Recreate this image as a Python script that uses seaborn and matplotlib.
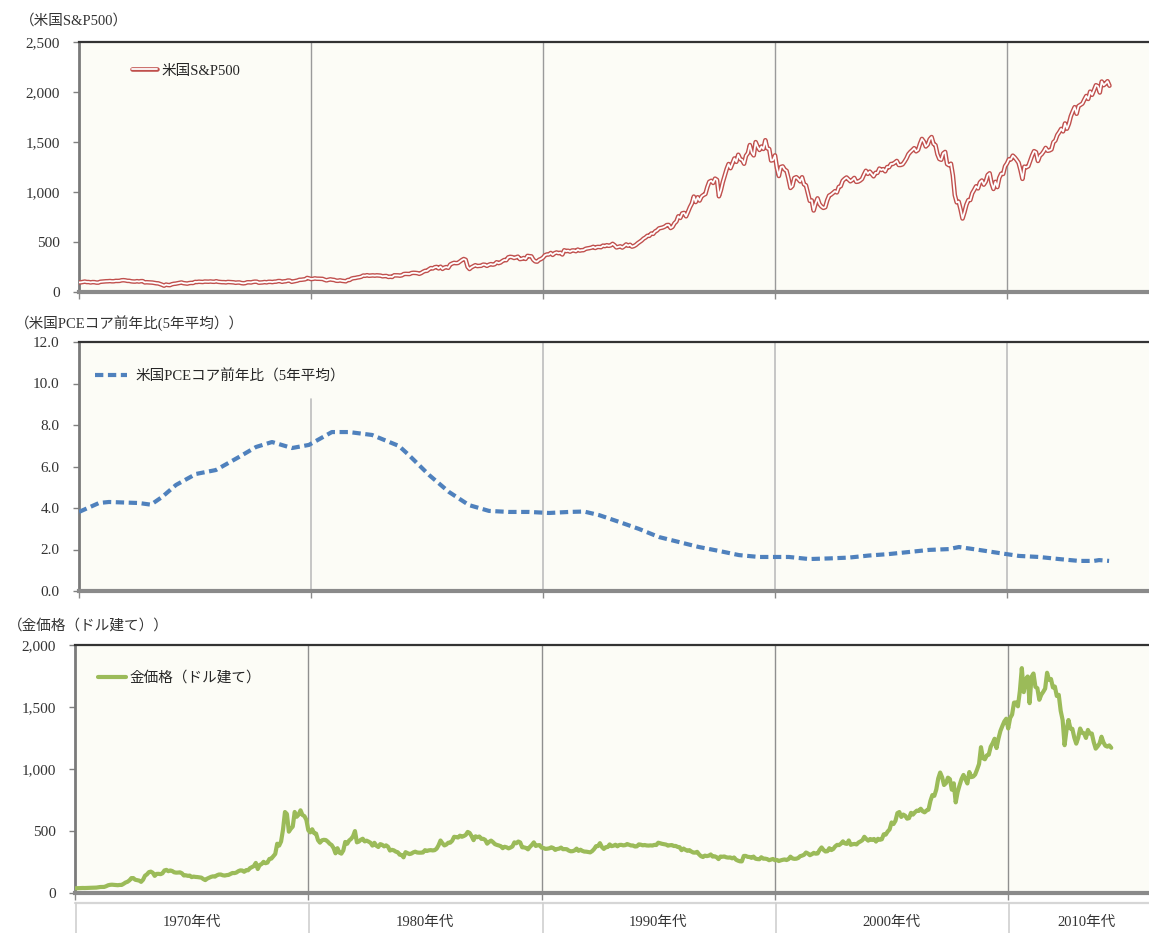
import numpy as np
import pandas as pd
import matplotlib
matplotlib.use("Agg")
import matplotlib.pyplot as plt
import matplotlib.transforms as mtransforms
from matplotlib.lines import Line2D
from matplotlib.legend_handler import HandlerTuple
from matplotlib.ticker import FuncFormatter, MultipleLocator
import seaborn as sns

# ---------------- data (monthly, Jan 1971 - Jun 2015) ----------------
START_YEAR = 1971

sp500 = [
    95.9, 96.8, 100.3, 104.0, 99.6, 99.7, 95.6, 99.0, 98.3, 94.2, 94.0, 102.1,
    103.9, 106.6, 107.2, 107.7, 109.5, 107.1, 107.4, 111.1, 110.6, 111.6, 116.7, 118.1,
    116.0, 111.7, 111.5, 107.0, 105.0, 104.3, 108.2, 104.3, 108.4, 108.3, 96.0, 97.6,
    96.6, 96.2, 94.0, 90.3, 87.3, 86.0, 79.3, 72.2, 63.5, 73.9, 70.0, 68.6,
    77.0, 81.6, 83.4, 87.3, 91.2, 95.2, 88.8, 86.9, 83.9, 89.0, 91.2, 90.2,
    100.9, 99.7, 102.8, 101.6, 100.2, 104.3, 103.4, 102.9, 105.2, 102.9, 102.1, 107.5,
    102.0, 99.8, 98.4, 98.4, 96.1, 100.5, 98.9, 96.8, 96.5, 92.3, 94.8, 95.1,
    89.3, 87.0, 89.2, 96.8, 97.2, 95.5, 100.7, 103.3, 102.5, 93.2, 94.7, 96.1,
    99.9, 96.3, 101.6, 101.8, 99.1, 102.9, 103.8, 109.3, 109.3, 101.8, 106.2, 107.9,
    114.2, 113.7, 102.1, 106.3, 111.2, 114.2, 121.7, 122.4, 125.5, 127.5, 140.5, 135.8,
    129.6, 131.3, 136.0, 132.8, 132.6, 131.2, 130.9, 122.8, 116.2, 121.9, 126.4, 122.6,
    120.4, 113.1, 112.0, 116.4, 111.9, 109.6, 107.1, 119.5, 120.4, 133.7, 138.5, 140.6,
    145.3, 148.1, 153.0, 164.4, 162.4, 168.1, 162.6, 164.4, 166.1, 163.6, 166.4, 164.9,
    163.4, 157.1, 159.2, 160.1, 150.6, 153.2, 150.7, 166.7, 166.1, 166.1, 163.6, 167.2,
    179.6, 181.2, 180.7, 179.8, 189.6, 191.9, 190.9, 188.6, 182.1, 189.8, 202.2, 211.3,
    211.8, 226.9, 238.9, 235.5, 247.4, 250.8, 236.1, 252.9, 231.3, 244.0, 249.2, 242.2,
    274.1, 284.2, 291.7, 288.4, 290.1, 304.0, 318.7, 329.8, 321.8, 251.8, 230.3, 247.1,
    257.1, 267.8, 258.9, 261.3, 262.2, 273.5, 272.0, 261.5, 271.9, 279.0, 273.7, 277.7,
    297.5, 288.9, 294.9, 309.6, 320.5, 318.0, 346.1, 351.5, 349.2, 340.4, 346.0, 353.4,
    329.1, 331.9, 339.9, 330.8, 361.2, 358.0, 356.2, 322.6, 306.1, 304.0, 322.2, 330.2,
    343.9, 367.1, 375.2, 375.3, 389.8, 371.2, 387.8, 395.4, 387.9, 392.5, 375.2, 417.1,
    408.8, 412.7, 403.7, 415.0, 415.4, 408.1, 424.2, 414.0, 417.8, 418.7, 431.4, 435.7,
    438.8, 443.4, 451.7, 440.2, 450.2, 450.5, 448.1, 463.6, 458.9, 467.8, 461.8, 466.5,
    481.6, 467.1, 445.8, 450.9, 456.5, 444.3, 458.3, 475.5, 462.7, 472.4, 453.7, 459.3,
    470.4, 487.4, 500.7, 514.7, 533.4, 544.8, 562.1, 561.9, 584.4, 581.5, 605.4, 615.9,
    636.0, 640.4, 645.5, 654.2, 669.1, 670.6, 640.0, 652.0, 687.3, 705.3, 757.0, 740.7,
    786.2, 790.8, 757.1, 801.3, 848.3, 885.1, 954.3, 899.5, 947.3, 914.6, 955.4, 970.4,
    980.3, 1049.3, 1101.8, 1111.8, 1090.8, 1133.8, 1120.7, 957.3, 1017.0, 1098.7, 1163.6, 1229.2,
    1279.6, 1238.3, 1286.4, 1335.2, 1301.8, 1372.7, 1328.7, 1320.4, 1282.7, 1362.9, 1388.9, 1469.3,
    1394.5, 1366.4, 1498.6, 1452.4, 1420.6, 1454.6, 1430.8, 1517.7, 1436.5, 1429.4, 1315.0, 1320.3,
    1366.0, 1239.9, 1160.3, 1249.5, 1255.8, 1224.4, 1211.2, 1133.6, 1040.9, 1059.8, 1139.5, 1148.1,
    1130.2, 1106.7, 1147.4, 1076.9, 1067.1, 989.8, 911.6, 916.1, 815.3, 885.8, 936.3, 879.8,
    855.7, 841.2, 848.2, 916.9, 963.6, 974.5, 990.3, 1008.0, 996.0, 1050.7, 1058.2, 1111.9,
    1131.1, 1144.9, 1126.2, 1107.3, 1120.7, 1140.8, 1101.7, 1104.2, 1114.6, 1130.2, 1173.8, 1211.9,
    1181.3, 1203.6, 1180.6, 1156.9, 1191.5, 1191.3, 1234.2, 1220.3, 1228.8, 1207.0, 1249.5, 1248.3,
    1280.1, 1280.7, 1294.8, 1310.6, 1270.1, 1270.2, 1276.7, 1303.8, 1335.9, 1377.9, 1400.6, 1418.3,
    1438.2, 1406.8, 1420.9, 1482.4, 1530.6, 1503.4, 1455.3, 1474.0, 1526.8, 1549.4, 1481.1, 1468.4,
    1378.6, 1330.6, 1322.7, 1385.6, 1400.4, 1280.0, 1267.4, 1282.8, 1166.4, 968.8, 896.2, 903.3,
    825.9, 735.1, 797.9, 872.8, 919.1, 919.3, 987.5, 1020.6, 1057.1, 1036.2, 1095.6, 1115.1,
    1073.9, 1104.5, 1169.4, 1186.7, 1089.4, 1030.7, 1101.6, 1049.3, 1141.2, 1183.3, 1180.6, 1257.6,
    1286.1, 1327.2, 1325.8, 1363.6, 1345.2, 1320.6, 1292.3, 1218.9, 1131.4, 1253.3, 1247.0, 1257.6,
    1312.4, 1365.7, 1408.5, 1397.9, 1310.3, 1362.2, 1379.3, 1406.6, 1440.7, 1412.2, 1416.2, 1426.2,
    1498.1, 1514.7, 1569.2, 1597.6, 1630.7, 1606.3, 1685.7, 1633.0, 1681.6, 1756.5, 1805.8, 1848.4,
    1782.6, 1859.5, 1872.3, 1884.0, 1923.6, 1960.2, 1930.7, 2003.4, 1972.3, 2018.1, 2067.6, 2058.9,
    1995.0, 2104.5, 2067.9, 2085.5, 2107.4, 2063.1,
]

gold = [
    37.9, 38.8, 38.9, 39.9, 40.6, 40.1, 41.0, 42.7, 42.0, 42.5, 43.0, 43.6,
    45.8, 48.3, 48.3, 49.0, 54.6, 62.1, 65.7, 67.0, 65.5, 64.9, 62.9, 64.9,
    65.1, 74.2, 84.5, 90.5, 102.0, 120.1, 120.2, 106.8, 103.0, 100.1, 90.0, 106.7,
    139.3, 150.2, 168.4, 172.2, 163.3, 138.0, 154.1, 154.6, 151.8, 158.8, 181.8, 186.5,
    175.8, 181.8, 177.3, 167.0, 164.2, 164.8, 166.7, 158.9, 141.3, 142.9, 138.3, 140.3,
    128.2, 132.3, 129.6, 128.4, 126.3, 123.8, 112.5, 104.0, 116.0, 123.2, 130.3, 134.5,
    132.3, 142.8, 148.9, 149.1, 143.0, 140.6, 144.1, 146.0, 154.1, 161.5, 160.5, 165.0,
    175.8, 182.3, 181.6, 170.9, 184.2, 183.1, 200.3, 208.7, 217.1, 242.6, 193.4, 226.0,
    233.7, 251.3, 240.1, 245.3, 274.6, 277.5, 296.5, 315.1, 397.3, 382.0, 415.7, 512.0,
    653.0, 637.0, 494.5, 518.0, 535.5, 653.5, 614.3, 631.3, 666.8, 629.0, 619.8, 589.8,
    506.5, 489.0, 513.8, 482.8, 479.3, 426.0, 406.0, 425.0, 428.8, 427.0, 414.5, 397.5,
    387.0, 362.6, 320.0, 361.3, 325.3, 317.5, 342.9, 411.5, 397.0, 423.3, 436.0, 456.9,
    499.5, 408.5, 414.8, 429.3, 437.5, 416.0, 422.0, 414.3, 405.0, 382.0, 405.0, 381.5,
    370.9, 394.3, 388.5, 375.8, 384.3, 373.1, 342.4, 348.3, 343.8, 333.5, 329.0, 309.0,
    306.7, 287.8, 329.3, 321.4, 314.0, 317.8, 327.5, 333.3, 326.5, 325.1, 325.3, 326.8,
    345.5, 338.8, 344.0, 345.8, 343.2, 345.5, 357.5, 384.7, 423.2, 401.0, 383.5, 390.9,
    405.5, 405.9, 421.0, 453.3, 451.0, 447.3, 462.5, 453.4, 459.5, 468.8, 492.5, 484.1,
    458.0, 426.2, 457.0, 450.0, 455.5, 436.6, 436.8, 427.8, 397.7, 412.4, 422.6, 410.3,
    394.0, 387.8, 383.2, 377.6, 361.4, 373.0, 368.3, 359.8, 366.5, 375.3, 408.2, 401.0,
    415.1, 407.7, 368.5, 367.8, 363.1, 352.2, 372.3, 387.8, 408.4, 379.5, 384.9, 386.2,
    366.0, 362.7, 355.7, 357.5, 360.4, 368.4, 362.9, 347.4, 354.9, 357.5, 366.3, 353.2,
    354.1, 353.1, 341.7, 336.4, 337.5, 343.4, 357.8, 340.0, 349.0, 339.3, 334.2, 333.3,
    330.5, 327.6, 337.8, 354.3, 377.5, 378.5, 401.8, 371.6, 355.5, 369.6, 370.9, 391.8,
    377.9, 381.6, 389.2, 376.5, 387.6, 388.3, 384.0, 385.8, 394.9, 389.1, 383.1, 383.3,
    374.9, 376.4, 392.0, 389.8, 384.3, 387.1, 383.4, 382.4, 384.0, 382.7, 387.8, 387.0,
    405.6, 400.7, 396.4, 393.8, 390.6, 382.0, 385.3, 386.5, 379.0, 379.5, 371.3, 369.3,
    345.5, 358.6, 348.2, 340.2, 345.6, 334.6, 326.4, 325.4, 332.1, 311.4, 296.8, 290.2,
    301.4, 297.4, 301.0, 310.7, 293.6, 296.3, 288.9, 273.4, 293.9, 292.3, 294.7, 287.8,
    285.4, 287.1, 279.5, 286.6, 268.6, 261.0, 255.6, 254.8, 299.0, 299.1, 291.4, 290.3,
    283.3, 293.7, 276.8, 273.6, 272.3, 288.2, 276.8, 277.0, 273.7, 264.5, 269.1, 274.5,
    264.5, 266.7, 257.7, 263.2, 267.5, 270.6, 265.9, 273.0, 293.1, 278.8, 275.5, 276.5,
    282.3, 296.9, 301.4, 308.2, 326.6, 318.5, 304.7, 312.8, 323.7, 316.9, 319.1, 347.2,
    367.5, 347.5, 334.9, 336.8, 361.4, 346.0, 354.8, 375.6, 388.0, 386.3, 398.4, 416.3,
    399.8, 395.9, 423.7, 388.5, 393.3, 395.8, 391.4, 407.3, 415.7, 425.6, 453.4, 435.6,
    422.2, 435.5, 427.5, 435.7, 414.5, 437.1, 429.0, 433.3, 473.3, 470.8, 495.7, 513.0,
    568.8, 556.0, 582.0, 644.0, 653.0, 613.5, 632.5, 623.5, 599.3, 603.8, 646.7, 632.0,
    650.5, 664.2, 661.8, 679.5, 659.1, 650.5, 665.5, 672.0, 743.0, 789.5, 783.5, 833.8,
    923.3, 971.5, 933.5, 871.0, 885.8, 930.3, 918.0, 833.0, 884.5, 730.8, 814.5, 869.8,
    919.5, 952.0, 916.5, 883.3, 975.5, 934.5, 939.0, 955.5, 995.8, 1040.0, 1175.8, 1087.5,
    1078.5, 1109.5, 1115.5, 1179.3, 1207.5, 1244.0, 1169.0, 1246.0, 1307.0, 1346.8, 1383.5, 1405.5,
    1327.0, 1411.0, 1439.0, 1535.5, 1536.5, 1505.5, 1628.5, 1813.5, 1620.0, 1722.0, 1746.0, 1531.0,
    1744.0, 1770.0, 1662.5, 1651.3, 1558.0, 1598.5, 1622.0, 1648.5, 1776.0, 1719.0, 1726.0, 1657.5,
    1664.8, 1588.5, 1598.3, 1469.0, 1394.5, 1192.0, 1314.5, 1394.8, 1326.5, 1324.0, 1253.0, 1204.5,
    1251.0, 1326.5, 1291.8, 1288.5, 1250.5, 1315.0, 1285.3, 1285.8, 1216.5, 1164.3, 1182.8, 1206.0,
    1260.3, 1214.0, 1187.0, 1180.3, 1190.3, 1171.0,
]

# US core PCE y/y, 5-year average
pce_years = [1971.0, 1971.86, 1972.29, 1973.59, 1974.1, 1974.58, 1975.18, 1976.04, 1976.9,
             1977.9, 1978.63, 1979.32, 1980.18, 1980.91, 1981.9, 1982.64, 1983.63, 1984.79,
             1985.22, 1986.09, 1986.95, 1987.81, 1988.67, 1989.53, 1990.4, 1991.26, 1992.12,
             1992.77, 1993.41, 1994.28, 1995.14, 1996.0, 1996.86, 1997.72, 1998.59, 1999.45,
             2000.31, 2001.6, 2002.47, 2003.33, 2004.19, 2005.05, 2005.91, 2006.78, 2007.64,
             2008.5, 2008.93, 2009.79, 2010.66, 2011.52, 2012.38, 2013.24, 2014.1, 2014.75,
             2014.97, 2015.4]
pce_values = [3.81, 4.24, 4.29, 4.24, 4.16, 4.53, 5.11, 5.64, 5.83,
              6.46, 6.94, 7.18, 6.89, 7.04, 7.66, 7.66, 7.52, 6.99,
              6.55, 5.59, 4.77, 4.14, 3.86, 3.81, 3.81, 3.76, 3.81,
              3.83, 3.66, 3.33, 2.99, 2.60, 2.36, 2.12, 1.93, 1.73,
              1.64, 1.64, 1.54, 1.57, 1.61, 1.71, 1.78, 1.88, 1.98,
              2.02, 2.12, 1.98, 1.83, 1.69, 1.64, 1.54, 1.45, 1.45,
              1.49, 1.45]

decade_labels = ["1970年代", "1980年代", "1990年代", "2000年代", "2010年代"]
decade_edges = [1971, 1981, 1991, 2001, 2011, 2017.7]

title_sp = "（米国S&P500）"
title_pce = "（米国PCEコア前年比(5年平均））"
title_gold = "（金価格（ドル建て））"
legend_sp = "米国S&P500"
legend_pce = "米国PCEコア前年比（5年平均）"
legend_gold = "金価格（ドル建て）"

months_sp = START_YEAR + np.arange(len(sp500)) / 12.0
months_gold = START_YEAR + np.arange(len(gold)) / 12.0
df_sp = pd.DataFrame({"year": months_sp, "value": sp500})
df_gold = pd.DataFrame({"year": months_gold, "value": gold})
df_pce = pd.DataFrame({"year": pce_years, "value": pce_values})

# ---------------- style ----------------
sns.set_theme(style="white")
plt.rcParams["font.family"] = ["Liberation Serif", "Noto Sans CJK JP", "DejaVu Sans"]

RED = "#C0504D"
BLUE = "#4F81BD"
GREEN = "#9BBB59"
BG = "#FCFCF6"
TXT = "#333333"

W, H = 1149, 933
fig = plt.figure(figsize=(W / 100, H / 100), dpi=100)


def rect(l, t, r, b):
    return [l / W, 1 - b / H, (r - l) / W, (b - t) / H]


ax1 = fig.add_axes(rect(79, 42, 1149, 292))
ax2 = fig.add_axes(rect(79, 342, 1149, 591))
ax3 = fig.add_axes(rect(75, 645, 1149, 893))


def style(ax, ymax, step, fmt, xmax, grid_color):
    ax.set_facecolor(BG)
    ax.set_xlim(START_YEAR, xmax)
    ax.set_ylim(0, ymax)
    ax.yaxis.set_major_locator(MultipleLocator(step))
    ax.yaxis.set_major_formatter(FuncFormatter(fmt))
    ax.set_xticks(decade_edges[:5])
    ax.set_xticklabels([])
    ax.spines["right"].set_visible(False)
    ax.spines["top"].set_color("#333333")
    ax.spines["top"].set_linewidth(1.6)
    ax.spines["left"].set_color("#7a7a7a")
    ax.spines["left"].set_linewidth(2.0)
    ax.spines["bottom"].set_color("#8a8a8a")
    ax.spines["bottom"].set_linewidth(3.0)
    ax.tick_params(axis="y", direction="out", length=4, width=1, color="#808080",
                   pad=10, labelsize=11, labelcolor=TXT, left=True)
    ax.tick_params(axis="x", direction="out", length=5, width=1, color="#8a8a8a", bottom=True)
    ax.grid(False)
    ax.set_xlabel("")
    ax.set_ylabel("")


style(ax1, 2500, 500, lambda v, p: f"{v:,.0f}", START_YEAR + 1070 / 23.2, "#9a9a9a")
style(ax2, 12, 2, lambda v, p: f"{v:.1f}", START_YEAR + 1070 / 23.2, "#bbbbbb")
style(ax3, 2000, 500, lambda v, p: f"{v:,.0f}", START_YEAR + 1074 / 23.33, "#9a9a9a")

# decade separators inside the panels
for e in decade_edges[1:5]:
    ax1.axvline(e, color="#9a9a9a", lw=1.0, zorder=1)
    ax3.axvline(e, color="#8f8f8f", lw=1.0, zorder=1)
for i, e in enumerate(decade_edges[1:5]):
    ax2.axvline(e, ymin=0, ymax=(0.77 if i == 0 else 1.0), color="#bdbdbd", lw=1.2, zorder=1)

# ---------------- series ----------------
sns.lineplot(data=df_sp, x="year", y="value", ax=ax1, color=RED, lw=3.3, zorder=3)
sns.lineplot(data=df_sp, x="year", y="value", ax=ax1, color="white", lw=1.3, zorder=4)
sns.lineplot(data=df_pce, x="year", y="value", ax=ax2, color=BLUE, lw=3.0,
             linestyle=(0, (2.0, 1.1)), zorder=3)
sns.lineplot(data=df_gold, x="year", y="value", ax=ax3, color=GREEN, lw=3.0, zorder=3)

for ax in (ax1, ax2, ax3):
    ax.set_xlabel("")
    ax.set_ylabel("")

# ---------------- legends ----------------
h_sp = (Line2D([], [], color=RED, lw=3.3), Line2D([], [], color="white", lw=1.3))
ax1.legend([h_sp], [legend_sp], handler_map={tuple: HandlerTuple(ndivide=1)},
           loc="center left", bbox_to_anchor=((132 - 79) / 1070, 1 - (71 - 42) / 250),
           frameon=False, borderpad=0, borderaxespad=0, handlelength=1.7,
           handletextpad=0.3, prop={"size": 10.5})
h_pce = Line2D([], [], color=BLUE, lw=3.0, linestyle=(0, (2.0, 1.1)))
ax2.legend([h_pce], [legend_pce], loc="center left",
           bbox_to_anchor=((95 - 79) / 1070, 1 - (376 - 342) / 249),
           frameon=False, borderpad=0, borderaxespad=0, handlelength=2.2,
           handletextpad=0.6, prop={"size": 10.5})
h_gold = Line2D([], [], color=GREEN, lw=3.0)
ax3.legend([h_gold], [legend_gold], loc="center left",
           bbox_to_anchor=((98 - 75) / 1074, 1 - (678 - 645) / 248),
           frameon=False, borderpad=0, borderaxespad=0, handlelength=1.9,
           handletextpad=0.25, prop={"size": 10.5})

# ---------------- axis titles ----------------
fig.text(20 / W, 1 - 21 / H, title_sp, ha="left", va="center", fontsize=10.5, color=TXT)
fig.text(15 / W, 1 - 323 / H, title_pce, ha="left", va="center", fontsize=10.5, color=TXT)
fig.text(8 / W, 1 - 626 / H, title_gold, ha="left", va="center", fontsize=10.5, color=TXT)

# ---------------- decade category row under bottom panel ----------------
trans = mtransforms.blended_transform_factory(ax3.transData, ax3.transAxes)
row_top = -10 / 248
row_bottom = -45 / 248
ax3.plot([decade_edges[0], decade_edges[-1]], [row_top, row_top], transform=trans,
         clip_on=False, color="#d6d6d6", lw=1.6)
for e in decade_edges[:5]:
    ax3.plot([e + 0.05, e + 0.05], [row_top, row_bottom], transform=trans,
             clip_on=False, color="#d0d0d0", lw=1.2)
for lab, a, b in zip(decade_labels, decade_edges[:-1], decade_edges[1:]):
    ax3.text((a + b) / 2, -29 / 248, lab, transform=trans, ha="center", va="center",
             fontsize=10.5, color=TXT)

fig.savefig("out.png", dpi=100, facecolor="white")
